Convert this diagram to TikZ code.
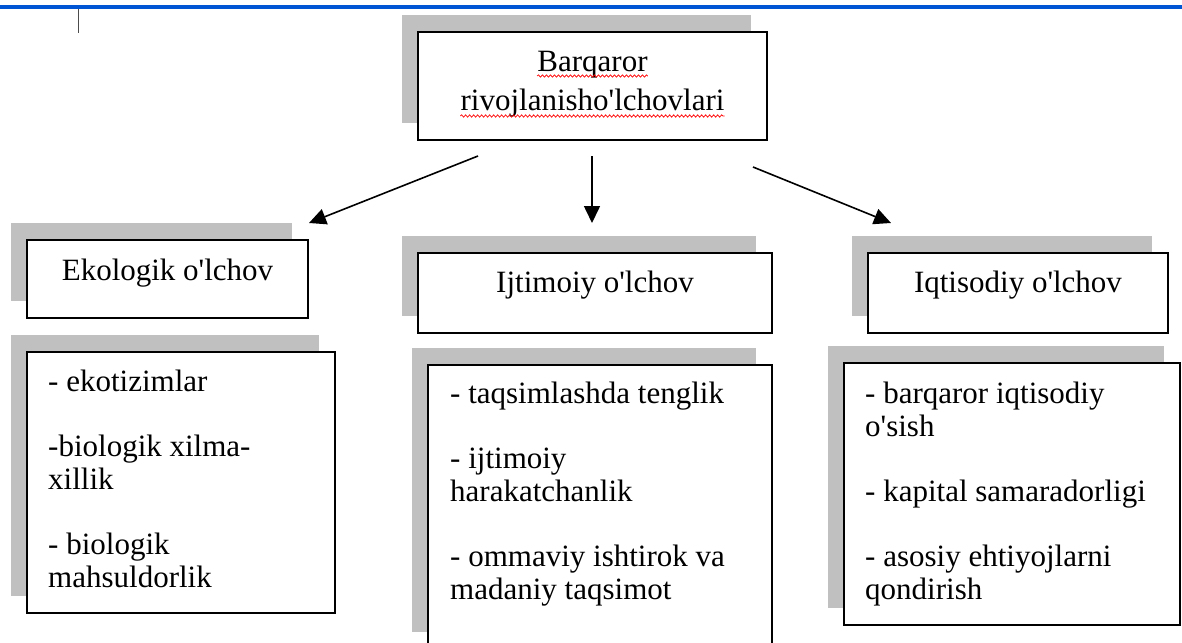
\documentclass[tikz,border=0pt]{standalone}
\usepackage{fontspec}
\newfontfamily\uzfont{Liberation Serif}
\usetikzlibrary{arrows.meta,shadows,decorations.pathmorphing}
\definecolor{sarlavha}{HTML}{0055D4}
\definecolor{soya}{HTML}{C0C0C0}

\begin{document}
\begin{tikzpicture}[x=1pt,y=-1pt,
  box/.style={draw=black, line width=2pt, fill=white, inner sep=0pt, outer sep=0pt, anchor=north west,
    drop shadow={shadow xshift=-16pt, shadow yshift=17pt, fill=soya, opacity=1}},
  matn/.style={inner sep=0pt, font=\uzfont\fontsize{31}{33}\selectfont},
  ruyxat/.style={matn, anchor=north west, align=left},
  strelka/.style={line width=1.6pt, -{Triangle[length=17pt,width=16pt]}},
  xato/.style={red, line width=0.7pt, decorate, decoration={snake, segment length=4pt, amplitude=1.2pt}}]

\useasboundingbox (0,0) rectangle (1182,642);
\clip (0,0) rectangle (1182,642);

% header line
\draw[sarlavha, line width=3.5pt] (0,7) -- (1182,7);
\draw[gray!60!black, line width=0.8pt] (78,9) -- (78,33);

% boxes
\node[box, minimum width=349pt, minimum height=108pt] (asosiy) at (418,32) {};
\node[box, minimum width=281pt, minimum height=78pt] (ekolog) at (27,240) {};
\node[box, minimum width=354pt, minimum height=80pt] (ijtimoiy) at (418,253) {};
\node[box, minimum width=300pt, minimum height=80pt] (iqtisod) at (868,253) {};
\node[box, minimum width=308pt, minimum height=261pt] (ekoroyxat) at (27,352) {};
\node[box, minimum width=344pt, minimum height=284pt] (ijtroyxat) at (428,365) {};
\node[box, minimum width=336pt, minimum height=262pt] (iqtroyxat) at (844,363) {};

% titles
\node[matn, anchor=base] (bq1) at ([yshift=-39pt]asosiy.north) {Barqaror};
\node[matn, anchor=base] (bq2) at ([yshift=-39pt]bq1.base) {rivojlanisho'lchovlari};
\draw[xato] ([yshift=-5pt]bq1.base west) -- ([yshift=-5pt]bq1.base east);
\draw[xato] ([yshift=-6pt]bq2.base west) -- ([yshift=-6pt]bq2.base east);

\node[matn, anchor=base] (eko) at ([yshift=-40pt]ekolog.north) {Ekologik o'lchov};
\node[matn, anchor=base] (ijt) at ([yshift=-39pt]ijtimoiy.north) {Ijtimoiy o'lchov};
\node[matn, anchor=base] (iqt) at ([yshift=-39pt]iqtisod.north) {Iqtisodiy o'lchov};

% lists
\node[ruyxat] (ekotxt) at ([xshift=21pt,yshift=-18pt]ekoroyxat.north west)
  {- ekotizimlar\\[32pt] -biologik xilma-\\ xillik\\[32pt] - biologik\\ mahsuldorlik};
\node[ruyxat] (ijttxt) at ([xshift=22pt,yshift=-17pt]ijtroyxat.north west)
  {- taqsimlashda tenglik\\[32pt] - ijtimoiy\\ harakatchanlik\\[32pt] - ommaviy ishtirok va\\ madaniy taqsimot};
\node[ruyxat] (iqttxt) at ([xshift=21pt,yshift=-19pt]iqtroyxat.north west)
  {- barqaror iqtisodiy\\ o'sish\\[32pt] - kapital samaradorligi\\[32pt] - asosiy ehtiyojlarni\\ qondirish};

% arrows
\coordinate (chap) at (478,156);
\coordinate (chapuch) at (309,223);
\coordinate (orta) at (592,156);
\coordinate (ortauch) at (592,223);
\coordinate (ong) at (753,167);
\coordinate (onguch) at (891,223);
\draw[strelka] (chap) -- (chapuch);
\draw[strelka] (orta) -- (ortauch);
\draw[strelka] (ong) -- (onguch);

\end{tikzpicture}
\end{document}
